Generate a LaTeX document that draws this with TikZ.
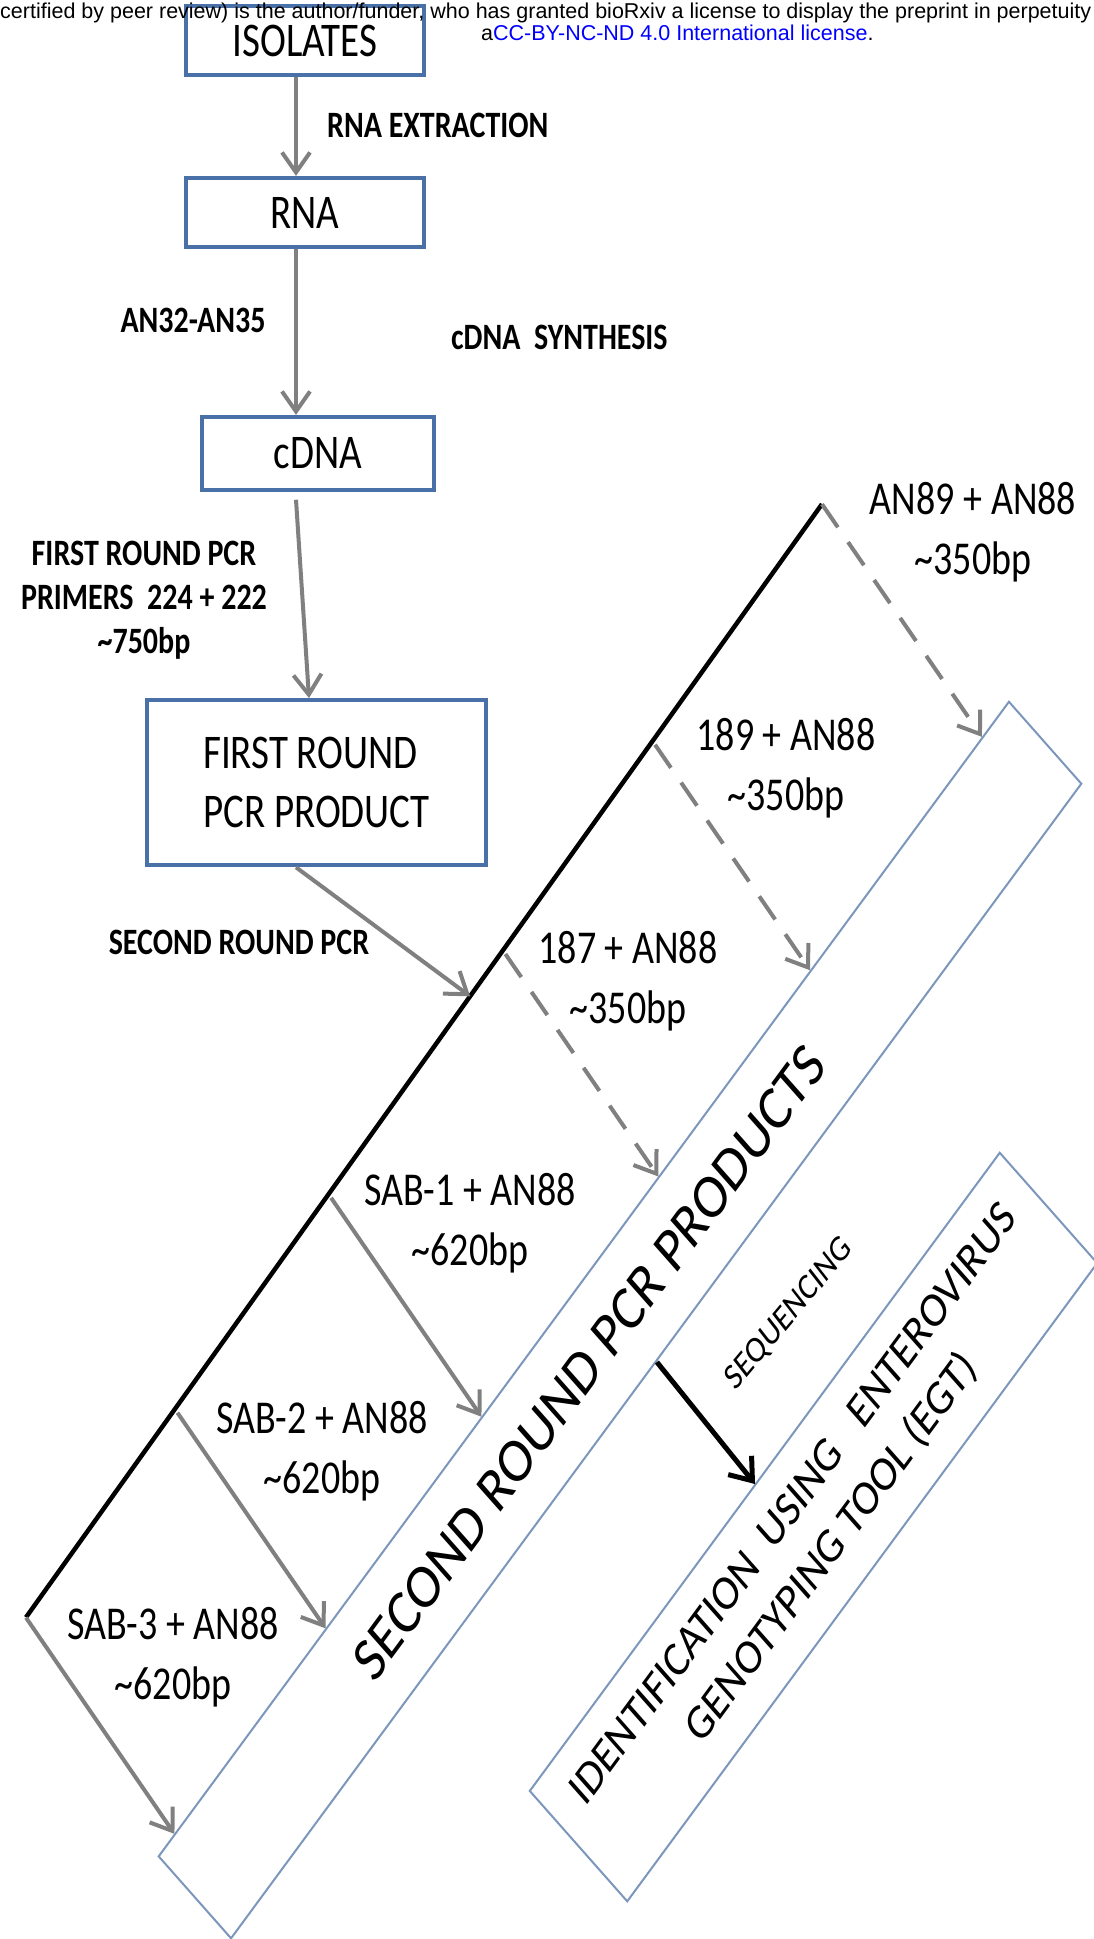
\documentclass[tikz,border=0pt]{standalone}
\usepackage{fontspec}
\setmainfont{Carlito}
\newfontfamily\hdrfont{Liberation Sans}
\usetikzlibrary{arrows.meta, calc}
\definecolor{boxblue}{RGB}{74,112,168}
\definecolor{slateblue}{RGB}{125,150,188}
\definecolor{arrowgray}{RGB}{128,128,128}
\definecolor{linkblue}{RGB}{0,0,255}

\begin{document}
\begin{tikzpicture}[x=1pt, y=-1pt,
    stage/.style={draw=boxblue, line width=3.5pt, inner sep=0pt, font=\fontsize{39}{48}\selectfont},
    note/.style={inner sep=0pt, align=center, font=\bfseries\fontsize{30}{35.5}\selectfont},
    primer/.style={inner sep=0pt, align=center, font=\fontsize{38}{48}\selectfont},
    tilted/.style={draw=slateblue, line width=2pt, rotate=47.6, inner sep=0pt},
    header/.style={anchor=base west, inner sep=0pt, font=\hdrfont\fontsize{21.5}{24}\selectfont},
    flow/.style={draw=arrowgray, line width=4pt, -{Straight Barb[length=20pt, width=28pt]}},
    nested/.style={flow, dash pattern=on 28pt off 18pt},
    spine/.style={draw=black, line width=4.5pt},
    seqflow/.style={draw=black, line width=5pt, -{Straight Barb[length=20pt, width=30pt]}},
]
    \useasboundingbox (0,0) rectangle (1093,1939);
    \fill[white] (0,0) rectangle (1093,1939);

    \begin{scope}[y=-0.80645pt, yscale=1.24, transform shape]
        \node[stage, minimum width=238pt, minimum height=55.6pt] (iso) at (305,40.5) {ISOLATES};
        \node[stage, minimum width=238pt, minimum height=55.6pt] (rna) at (305,212.5) {RNA};
        \node[stage, minimum width=232pt, minimum height=58.9pt] (cdna) at (318,453.5) {cDNA};
        \node[stage, minimum width=339pt, minimum height=133pt, align=left] (first) at (316.5,782.5) {FIRST ROUND\\PCR PRODUCT};

        \node[note, anchor=west] (ext) at (327,125) {RNA EXTRACTION};
        \node[note] (rt) at (193,320) {AN32-AN35};
        \node[note, anchor=west] (syn) at (451,337) {cDNA\ \ SYNTHESIS};
        \node[note] (pcr1) at (144,600) {FIRST ROUND PCR\\PRIMERS\ \ 224 + 222\\\textasciitilde750bp};
        \node[note] (pcr2) at (239,942) {SECOND ROUND PCR};

        \draw[flow] ([xshift=-9pt]iso.south) -- ([xshift=-9pt]rna.north);
        \draw[flow] ([xshift=-9pt]rna.south) -- ([xshift=-22pt]cdna.north);
        \draw[flow] ([xshift=-22pt, yshift=-6pt]cdna.south) -- ([xshift=-7.5pt]first.north);

        \coordinate (lo) at (26,1617);
        \coordinate (hi) at (822,504);
        \draw[spine] (lo) -- (hi);
        \coordinate (m0) at ($(lo)!0.558!(hi)$);
        \draw[flow] ([xshift=-20.5pt]first.south) -- (m0);

        \node[tilted, minimum width=1261pt, minimum height=98pt] (prod) at (620,1320) {};
        \node[rotate=47.6, inner sep=0pt, font=\fontsize{51}{60}\selectfont] (prodtext) at ($(prod.center)!46pt!(prod.west)$) {SECOND ROUND PCR PRODUCTS};
        \node[tilted, minimum width=697pt, minimum height=132pt, align=center, font=\fontsize{40}{52}\selectfont] (egt) at (813.5,1527) {IDENTIFICATION\ \ USING\ \ \ ENTEROVIRUS\\GENOTYPING TOOL (EGT)};

        \coordinate (pa) at (prod.north west);
        \coordinate (pb) at (prod.north east);
        \coordinate (ea) at (egt.north west);
        \coordinate (eb) at (egt.north east);

        \coordinate (b1) at (hi);
        \coordinate (b2) at ([xshift=5pt]$(lo)!0.784!(hi)$);
        \coordinate (b3) at ([xshift=5pt]$(lo)!0.596!(hi)$);
        \coordinate (b4) at ([xshift=5pt]$(lo)!0.377!(hi)$);
        \coordinate (b5) at ([xshift=5pt]$(lo)!0.184!(hi)$);
        \coordinate (b6) at (lo);
        \coordinate (h1) at ($(b1)+(152,221)$);
        \coordinate (h2) at ($(b2)+(152,221)$);
        \coordinate (h3) at ($(b3)+(152,221)$);
        \coordinate (h4) at ($(b4)+(152,221)$);
        \coordinate (h5) at ($(b5)+(152,221)$);
        \coordinate (h6) at ($(b6)+(152,221)$);

        \draw[nested] (b1) -- (intersection of b1--h1 and pa--pb);
        \draw[nested] (b2) -- (intersection of b2--h2 and pa--pb);
        \draw[nested] (b3) -- (intersection of b3--h3 and pa--pb);
        \draw[flow] (b4) -- (intersection of b4--h4 and pa--pb);
        \draw[flow] (b5) -- (intersection of b5--h5 and pa--pb);
        \draw[flow] (b6) -- (intersection of b6--h6 and pa--pb);

        \node[primer] (p1) at (973,532) {AN89 + AN88\\\textasciitilde350bp};
        \node[primer] (p2) at (786,768) {189 + AN88\\\textasciitilde350bp};
        \node[primer] (p3) at (628,981) {187 + AN88\\\textasciitilde350bp};
        \node[primer] (p4) at (470,1223) {SAB-1 + AN88\\\textasciitilde620bp};
        \node[primer] (p5) at (322,1451) {SAB-2 + AN88\\\textasciitilde620bp};
        \node[primer] (p6) at (173,1657) {SAB-3 + AN88\\\textasciitilde620bp};

        \coordinate (sq) at ($(prod.south)+(96,119)$);
        \draw[seqflow] (prod.south) -- (intersection of prod.south--sq and ea--eb);
        \node[rotate=44, inner sep=0pt, font=\fontsize{30}{36}\selectfont] (seq) at (789,1314) {SEQUENCING};
    \end{scope}

    \node[header] (hdr1) at (0,18.3) {certified by peer review) is the author/funder, who has granted bioRxiv a license to display the preprint in perpetuity};
    \node[header] (hdr2) at (481,40.7) {a\textcolor{linkblue}{CC-BY-NC-ND 4.0 International license}.};
\end{tikzpicture}
\end{document}
